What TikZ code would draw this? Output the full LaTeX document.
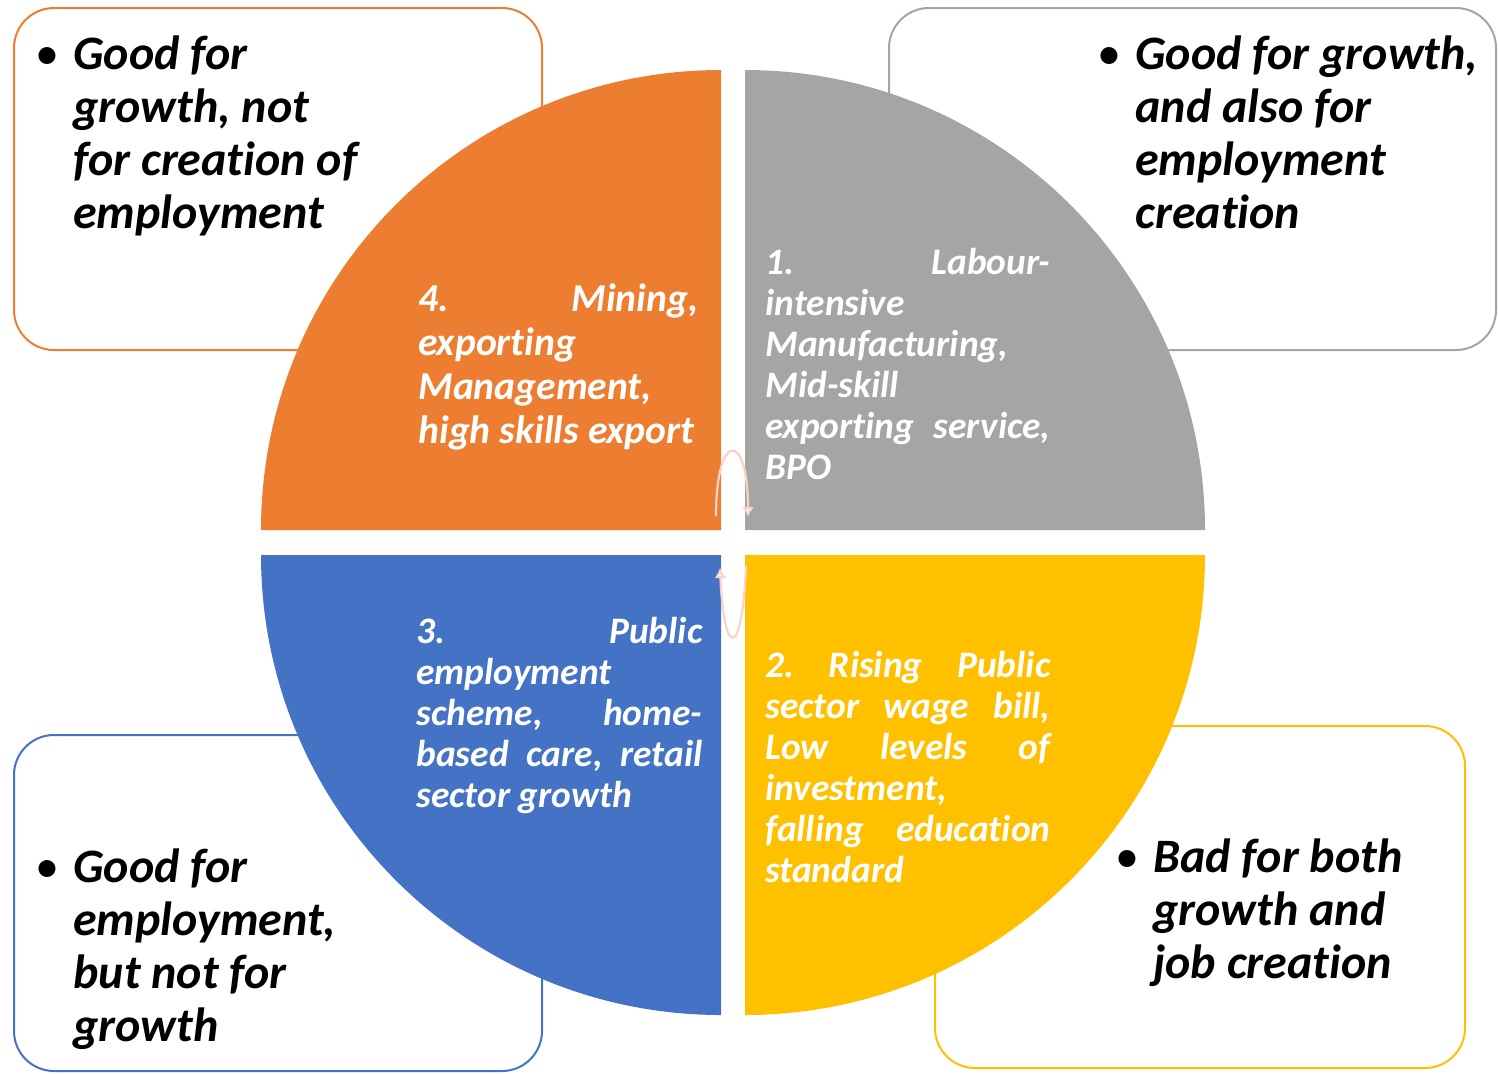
\documentclass[tikz,border=0pt]{standalone}
\usepackage{fontspec}
\setmainfont{Carlito}[Ligatures=NoCommon]
\usetikzlibrary{arrows.meta}

\definecolor{qorange}{HTML}{ED7D31}
\definecolor{qgray}{HTML}{A5A5A5}
\definecolor{qblue}{HTML}{4472C4}
\definecolor{qyellow}{HTML}{FFC000}
\definecolor{arcpink}{HTML}{F8D3C6}

\newcommand\verdictfont{\fontsize{24}{26.5}\selectfont\bfseries\itshape}
\newcommand\sectorfont{\fontsize{18.7}{20.5}\selectfont\bfseries\itshape}
\newcommand\minefont{\fontsize{19.8}{22}\selectfont\bfseries\itshape}
\newcommand\dotitem{\llap{{\mdseries\upshape\textbullet}\hspace{7pt}}}

\begin{document}
\begin{tikzpicture}[
    x=0.5pt, y=-0.5pt,
    panel/.style={draw=#1, fill=white, line width=1pt, rounded corners=20pt},
    verdict/.style={anchor=north west, inner sep=0pt, align=left,
        font=\verdictfont},
    sector/.style={anchor=north west, inner sep=0pt, align=justify,
        text=white, font=\sectorfont},
    flowarc/.style={draw=arcpink, line width=1.1pt,
        -{Latex[open, length=5pt, width=6pt, fill=white]}}
]
    \useasboundingbox (0,0) rectangle (1498,1073);

    % outer boxes
    \draw[panel=qorange] (14,8) rectangle (542,350);
    \draw[panel=qgray] (889,8) rectangle (1496,350);
    \draw[panel=qblue] (14,735) rectangle (542,1071);
    \draw[panel=qyellow] (935,726) rectangle (1465,1068);

    % quarter discs
    \fill[qorange] (721,530) -- ++(-460,0) arc[start angle=180, end angle=270, radius=460] -- cycle;
    \fill[qgray] (745,530) -- ++(0,-460) arc[start angle=270, end angle=360, radius=460] -- cycle;
    \fill[qblue] (721,555) -- ++(-460,0) arc[start angle=180, end angle=90, radius=460] -- cycle;
    \fill[qyellow] (745,555) -- ++(460,0) arc[start angle=0, end angle=90, radius=460] -- cycle;

    % verdicts
    \node[verdict] (growthonly) at (73,35)
        {\dotitem Good for\\growth, not\\for creation of\\employment};
    \node[verdict] (growthjobs) at (1135,35)
        {\dotitem Good for growth,\\and also for\\employment\\creation};
    \node[verdict] (jobsonly) at (73,848)
        {\dotitem Good for\\employment,\\but not for\\growth};
    \node[verdict] (neither) at (1153,838)
        {\dotitem Bad for both\\growth and\\job creation};

    % sectors
    \node[sector, font=\minefont, text width=140pt] (mining) at (418,283)
        {4.\hfill Mining,\\exporting\\Management,\\high skills export};
    \node[sector, text width=142.5pt] (labour) at (765,248)
        {1.\hfill Labour-\\intensive\\Manufacturing,\\Mid-skill\\exporting\hfill service,\\BPO};
    \node[sector, text width=143pt] (public) at (416,617)
        {3.\hfill Public\\employment\\scheme,\hfill home-\\based\hfill care,\hfill retail\\sector growth};
    \node[sector, text width=142.5pt] (wagebill) at (765,651)
        {2.\hfill Rising\hfill Public\\sector\hfill wage\hfill bill,\\Low\hfill levels\hfill of\\investment,\\falling\hfill education\\standard};

    % small arcs at the centre
    \coordinate (upA) at (716,516);
    \coordinate (upB) at (748,517);
    \coordinate (loA) at (746,566);
    \coordinate (loB) at (720,568);
    \draw[flowarc] (upA) .. controls (716,430) and (748,430) .. (upB);
    \draw[flowarc] (loA) .. controls (742,660) and (724,660) .. (loB);
\end{tikzpicture}
\end{document}
